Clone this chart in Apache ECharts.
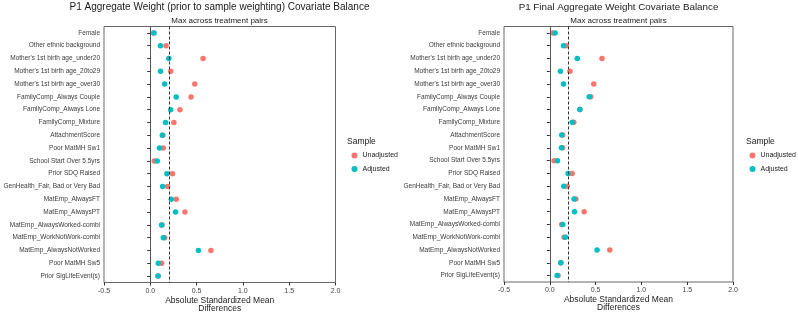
<!DOCTYPE html>
<html>
<head>
<meta charset="utf-8">
<script src="https://cdn.jsdelivr.net/npm/echarts@6/dist/echarts.min.js"></script>
<style>
html,body{margin:0;padding:0;background:#fff;}
#c{width:798px;height:313px;}
</style>
</head>
<body>
<div id="c"></div>
<script>
var categories = [
  "Female","Other ethnic background","Mother's 1st birth age_under20","Mother's 1st birth age_20to29",
  "Mother's 1st birth age_over30","FamilyComp_Always Couple","FamilyComp_Always Lone","FamilyComp_Mixture",
  "AttachmentScore","Poor MatMH Sw1","School Start Over 5.5yrs","Prior SDQ Raised",
  "GenHealth_Fair, Bad or Very Bad","MatEmp_AlwaysFT","MatEmp_AlwaysPT","MatEmp_AlwaysWorked-combi",
  "MatEmp_WorkNotWork-combi","MatEmp_AlwaysNotWorked","Poor MatMH Sw5","Prior SigLifeEvent(s)"
];
var leftUnadjusted = [0.035,0.17,0.57,0.22,0.48,0.44,0.32,0.255,0.135,0.14,0.043,0.24,0.187,0.28,0.374,0.127,0.155,0.655,0.122,0.085];
var leftAdjusted   = [0.04,0.11,0.20,0.11,0.155,0.28,0.22,0.165,0.13,0.10,0.075,0.18,0.133,0.227,0.273,0.122,0.14,0.52,0.086,0.083];
var rightUnadjusted = [0.033,0.18,0.57,0.22,0.48,0.447,0.33,0.262,0.14,0.14,0.047,0.244,0.19,0.284,0.375,0.13,0.156,0.655,0.12,0.09];
var rightAdjusted   = [0.058,0.15,0.30,0.116,0.15,0.43,0.327,0.244,0.13,0.127,0.084,0.20,0.153,0.265,0.27,0.142,0.17,0.516,0.12,0.08];
var xTicks = [-0.5, 0.0, 0.5, 1.0, 1.5, 2.0];
var threshold = 0.2;
var leftTitle = "P1 Aggregate Weight (prior to sample weighting) Covariate Balance";
var rightTitle = "P1 Final Aggregate Weight Covariate Balance";
var subTitle = "Max across treatment pairs";
var xName = "Absolute Standardized Mean\nDifferences";

var RED = '#F8766D', TEAL = '#00BFC4';
var FONT = 'Liberation Sans';

function pairs(vals){ return vals.map(function(v,i){ return [v, categories[i]]; }); }

function xAxisDef(gi){
  return {
    type:'value', gridIndex:gi, min:xTicks[0], max:xTicks[xTicks.length-1], interval:0.5,
    name:xName, nameLocation:'middle', nameGap:14, nameMoveOverlap:false,
    nameTextStyle:{fontFamily:FONT,fontSize:8.5,color:'#1a1a1a',lineHeight:8},
    axisLine:{show:false}, splitLine:{show:false},
    axisTick:{show:true,length:3,lineStyle:{color:'#333'}},
    axisLabel:{fontFamily:FONT,fontSize:7,color:'#444',margin:5,
      formatter:function(v){ return v.toFixed(1); }}
  };
}
function yAxisDef(gi){
  return {
    type:'category', gridIndex:gi, data:categories, inverse:true, boundaryGap:true,
    axisLine:{show:false}, splitLine:{show:false},
    axisTick:{show:true,alignWithLabel:true,length:3,lineStyle:{color:'#333'}},
    axisLabel:{fontFamily:FONT,fontSize:6.5,color:'#3a3a3a',margin:4,interval:0}
  };
}
function refSeries(gi){
  return {
    type:'line', xAxisIndex:gi, yAxisIndex:gi, data:[], z:1, silent:true,
    markLine:{silent:true, symbol:'none', label:{show:false}, animation:false,
      data:[
        {xAxis:0, lineStyle:{color:'#555',width:1,type:'solid'}},
        {xAxis:threshold, lineStyle:{color:'#333',width:1,type:[3,2]}}
      ]}
  };
}
function ptSeries(gi,name,vals,color,z){
  return {type:'scatter', name:name, xAxisIndex:gi, yAxisIndex:gi, data:pairs(vals),
    symbol:'circle', symbolSize:5.5, itemStyle:{color:color,opacity:1}, z:z};
}

var chart = echarts.init(document.getElementById('c'), null, {renderer:'canvas'});
chart.setOption({
  animation:false,
  backgroundColor:'#fff',
  textStyle:{fontFamily:FONT},
  title:[
    {text:leftTitle, subtext:subTitle, left:219.5, top:2, padding:0, textAlign:'center', itemGap:4.5,
     textStyle:{fontFamily:FONT,fontSize:10,fontWeight:'normal',color:'#1a1a1a'},
     subtextStyle:{fontFamily:FONT,fontSize:8,color:'#1a1a1a'}},
    {text:rightTitle, subtext:subTitle, left:618.5, top:2, padding:0, textAlign:'center', itemGap:4.5,
     textStyle:{fontFamily:FONT,fontSize:9.8,fontWeight:'normal',color:'#1a1a1a'},
     subtextStyle:{fontFamily:FONT,fontSize:8,color:'#1a1a1a'}},
    {text:'Sample', left:347, top:137.5, padding:0, textStyle:{fontFamily:FONT,fontSize:8.5,fontWeight:'normal',color:'#1a1a1a'}},
    {text:'Sample', left:746, top:137.5, padding:0, textStyle:{fontFamily:FONT,fontSize:8.5,fontWeight:'normal',color:'#1a1a1a'}}
  ],
  legend:[
    {data:['Unadjusted','Adjusted'], orient:'vertical', left:351.5, top:152, itemWidth:6, itemHeight:6, itemGap:6.5,
     icon:'circle', textStyle:{fontFamily:FONT,fontSize:7,color:'#1a1a1a'}, padding:0, selectedMode:false},
    {data:['Unadjusted','Adjusted'], orient:'vertical', left:749.5, top:152, itemWidth:6, itemHeight:6, itemGap:6.5,
     icon:'circle', textStyle:{fontFamily:FONT,fontSize:7,color:'#1a1a1a'}, padding:0, selectedMode:false}
  ],
  grid:[
    {left:104, top:26.5, width:231.5, height:256, show:true, borderColor:'#666', borderWidth:1,
     backgroundColor:'transparent', containLabel:false, outerBoundsMode:'none'},
    {left:504, top:26.5, width:229, height:255.5, show:true, borderColor:'#666', borderWidth:1,
     backgroundColor:'transparent', containLabel:false, outerBoundsMode:'none'}
  ],
  xAxis:[xAxisDef(0), xAxisDef(1)],
  yAxis:[yAxisDef(0), yAxisDef(1)],
  series:[
    refSeries(0), refSeries(1),
    ptSeries(0,'Unadjusted',leftUnadjusted,RED,3),
    ptSeries(0,'Adjusted',leftAdjusted,TEAL,4),
    ptSeries(1,'Unadjusted',rightUnadjusted,RED,3),
    ptSeries(1,'Adjusted',rightAdjusted,TEAL,4)
  ]
});
</script>
</body>
</html>
